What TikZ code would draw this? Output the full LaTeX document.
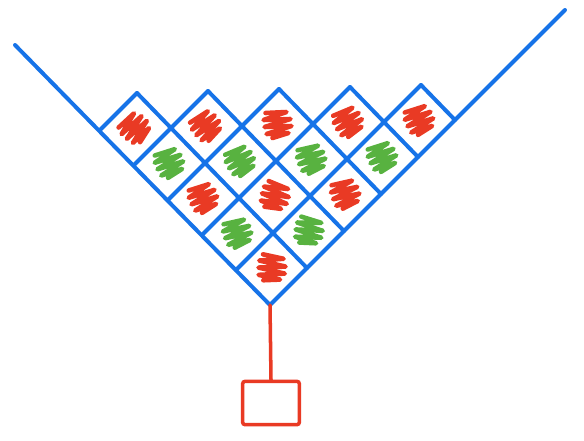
\documentclass[tikz,border=0pt]{standalone}
\usepackage{xcolor}
\definecolor{azulC}{RGB}{22,115,232}
\definecolor{vermelho}{RGB}{233,58,36}
\definecolor{verdeC}{RGB}{88,178,64}
\usepackage{tikz}
\usetikzlibrary{calc}

\begin{document}
\begin{tikzpicture}[x=0.03cm, y=-0.03cm,
    traco/.style={draw=azulC, line width=3.4pt, line cap=round, line join=round},
    rabisco/.style={line width=3.9pt, line cap=round, line join=round},
    ligacao/.style={draw=vermelho, line width=3pt, line cap=round},
    caixa/.style={draw=vermelho, line width=3pt, rounded corners=2pt,
    minimum width=1.7cm, minimum height=1.3cm, inner sep=0pt}]
  \useasboundingbox (0,0) rectangle (584,440);
  \coordinate (base) at (270,305);
  \coordinate (esq) at (15,45);
  \coordinate (dir) at (565,10);
  % funil
  \draw[traco] (esq) -- (base) -- (dir);
  % grelha das celulas
  \foreach \k in {1,...,5}{
    \draw[traco] ($(base)+\k*(37,-37)$) -- ++({-(6-\k)*34},{-(6-\k)*35});
    \draw[traco] ($(base)+\k*(-34,-35)$) -- ++({(6-\k)*37},{-(6-\k)*37});
  }
  % rabiscos
  \foreach \i/\j/\cor/\ang in {
    0/0/vermelho/-15, 1/0/verdeC/10, 0/1/verdeC/-20,
    2/0/vermelho/15, 1/1/vermelho/-25, 0/2/vermelho/10,
    3/0/verdeC/15, 2/1/verdeC/20, 1/2/verdeC/10, 0/3/verdeC/15,
    4/0/vermelho/40, 3/1/vermelho/30, 2/2/vermelho/0, 1/3/vermelho/20, 0/4/vermelho/15%
  }{
    \pgfmathsetmacro\cx{270-34*(\i+0.5)+37*(\j+0.5)}
    \pgfmathsetmacro\cy{305-35*(\i+0.5)-37*(\j+0.5)}
    \draw[rabisco, draw=\cor, shift={(\cx,\cy)}, rotate=\ang]
      (-12,-12) -- (9,-13) -- (-14,-5) -- (13,-6) -- (-13,2)
      -- (14,1) -- (-11,9) -- (11,8) -- (-5,13);
  }
  % caixa de baixo
  \node[caixa] (caixa) at (271,403) {};
  \draw[ligacao] (base) -- (caixa.north);
\end{tikzpicture}
\end{document}
